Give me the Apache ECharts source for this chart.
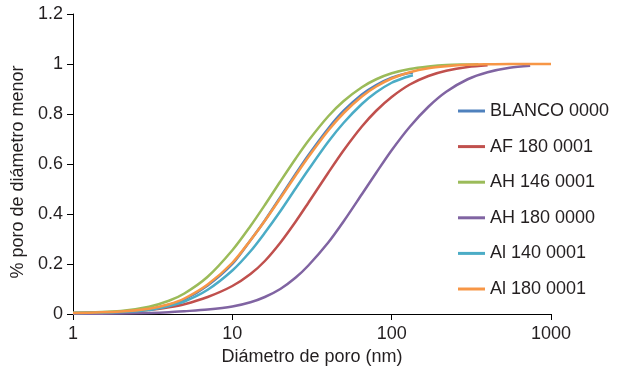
<!DOCTYPE html>
<html>
<head>
<meta charset="utf-8">
<script src="https://cdn.jsdelivr.net/npm/echarts@6/dist/echarts.min.js"></script>
<style>
html,body{margin:0;padding:0;background:#fff;}
#chart{width:626px;height:374px;}
</style>
</head>
<body>
<div id="chart"></div>
<script>
var seriesNames = ['BLANCO 0000', 'AF 180 0001', 'AH 146 0001', 'AH 180 0000', 'Al 140 0001', 'Al 180 0001'];
var seriesColors = ['#4F81BD', '#C0504D', '#9BBB59', '#8064A2', '#4BACC6', '#F79646'];

var blancoX = [1, 2, 3, 4, 5, 7, 10, 13, 16, 20, 25, 30, 40, 50, 65, 80, 100, 120, 136];
var blancoY = [0.004, 0.009, 0.019, 0.037, 0.058, 0.114, 0.2, 0.295, 0.374, 0.467, 0.561, 0.635, 0.742, 0.813, 0.878, 0.916, 0.945, 0.96, 0.966];

var af180X = [1, 2, 3, 4, 5, 7, 10, 13, 16, 20, 25, 30, 40, 50, 65, 80, 100, 130, 170, 220, 300, 400];
var af180Y = [0.003, 0.008, 0.016, 0.027, 0.039, 0.068, 0.112, 0.16, 0.212, 0.285, 0.37, 0.445, 0.565, 0.655, 0.75, 0.813, 0.868, 0.918, 0.952, 0.973, 0.988, 0.995];

var ah146X = [1, 2, 3, 4, 5, 7, 10, 13, 16, 20, 25, 30, 40, 50, 65, 80, 100, 130, 170, 220, 300, 350];
var ah146Y = [0.005, 0.012, 0.029, 0.053, 0.082, 0.149, 0.255, 0.352, 0.436, 0.53, 0.622, 0.693, 0.791, 0.852, 0.907, 0.939, 0.963, 0.98, 0.99, 0.996, 0.998, 0.999];

var ah180X = [1, 2, 3, 4, 5, 7, 10, 13, 16, 20, 25, 30, 40, 50, 65, 80, 100, 130, 170, 220, 300, 400, 550, 740];
var ah180Y = [0.001, 0.002, 0.004, 0.007, 0.011, 0.018, 0.03, 0.047, 0.068, 0.1, 0.146, 0.194, 0.286, 0.371, 0.479, 0.565, 0.655, 0.749, 0.829, 0.889, 0.939, 0.967, 0.985, 0.993];

var al140X = [1, 2, 3, 4, 5, 7, 10, 13, 16, 20, 25, 30, 40, 50, 65, 80, 100, 120, 136];
var al140Y = [0.004, 0.008, 0.016, 0.032, 0.05, 0.097, 0.174, 0.251, 0.325, 0.411, 0.503, 0.577, 0.689, 0.765, 0.84, 0.887, 0.925, 0.945, 0.955];

var al180X = [1, 2, 3, 4, 5, 7, 10, 13, 16, 20, 25, 30, 40, 50, 65, 80, 100, 130, 170, 220, 300, 400, 550, 1000];
var al180Y = [0.004, 0.01, 0.021, 0.039, 0.062, 0.118, 0.205, 0.295, 0.373, 0.463, 0.555, 0.628, 0.734, 0.804, 0.87, 0.91, 0.942, 0.967, 0.983, 0.991, 0.997, 0.999, 1.0, 1.0];

var xTicks = [1, 10, 100, 1000];
var yTicks = [0, 0.2, 0.4, 0.6, 0.8, 1, 1.2];

var allX = [blancoX, af180X, ah146X, ah180X, al140X, al180X];
var allY = [blancoY, af180Y, ah146Y, ah180Y, al140Y, al180Y];

function pairs(xs, ys) {
  return xs.map(function (x, i) { return [x, ys[i]]; });
}

var FONT = '"Liberation Sans", Arial, sans-serif';
var TXT = '#231f20';

var chart = echarts.init(document.getElementById('chart'), null, {renderer: 'canvas'});
chart.setOption({
  animation: false,
  backgroundColor: '#ffffff',
  textStyle: {fontFamily: FONT, color: TXT},
  grid: {left: 73, right: 75, top: 14, bottom: 60, containLabel: false},
  legend: {
    data: seriesNames,
    orient: 'vertical',
    left: 458,
    top: 101,
    padding: 0,
    itemWidth: 27,
    itemHeight: 3,
    itemGap: 15.6,
    icon: 'rect',
    textStyle: {fontFamily: FONT, fontSize: 18, color: TXT, lineHeight: 20}
  },
  xAxis: {
    type: 'log',
    logBase: 10,
    min: xTicks[0],
    max: xTicks[xTicks.length - 1],
    name: 'Diámetro de poro (nm)',
    nameLocation: 'middle',
    nameGap: 32,
    nameTextStyle: {fontFamily: FONT, fontSize: 18, color: TXT},
    axisLine: {show: true, lineStyle: {color: '#000', width: 1}},
    axisTick: {show: true, length: 6, lineStyle: {color: '#000'}},
    minorTick: {show: false},
    splitLine: {show: false},
    axisLabel: {fontFamily: FONT, fontSize: 18, color: TXT, margin: 11,
      formatter: function (v) { return String(Math.round(v)); }}
  },
  yAxis: {
    type: 'value',
    min: yTicks[0],
    max: yTicks[yTicks.length - 1],
    interval: 0.2,
    name: '% poro de diámetro menor',
    nameLocation: 'middle',
    nameGap: 44,
    nameTextStyle: {fontFamily: FONT, fontSize: 18, color: TXT, padding: [0, 16, 0, 0]},
    axisLine: {show: true, lineStyle: {color: '#000', width: 1}},
    axisTick: {show: true, length: 6, lineStyle: {color: '#000'}},
    splitLine: {show: false},
    axisLabel: {fontFamily: FONT, fontSize: 18, color: TXT, margin: 10}
  },
  series: seriesNames.map(function (n, i) {
    return {
      name: n,
      type: 'line',
      data: pairs(allX[i], allY[i]),
      showSymbol: false,
      symbol: 'none',
      smooth: 0.3,
      color: seriesColors[i],
      lineStyle: {width: 2.5, color: seriesColors[i]}
    };
  })
});
</script>
</body>
</html>
